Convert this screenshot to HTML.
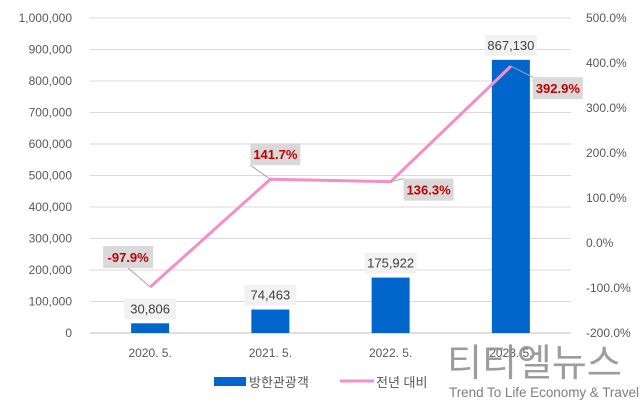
<!DOCTYPE html>
<html><head><meta charset="utf-8"><style>
body{margin:0;background:#fff;width:640px;height:401px;overflow:hidden}
svg text{font-family:"Liberation Sans","Noto Sans CJK KR",sans-serif}
</style></head><body>
<svg width="640" height="401" id="c"></svg>
<script>
const categories=["2020. 5.","2021. 5.","2022. 5.","2023. 5."];
const visitors=[30806,74463,175922,867130];
const growth=[-97.9,141.7,136.3,392.9];
const leftTicks=[0,100000,200000,300000,400000,500000,600000,700000,800000,900000,1000000];
const rightTicks=[-200,-100,0,100,200,300,400,500];
const pctOffsets=[[-22,-30],[5,-25],[38,8],[47,22]];
const svg=document.getElementById('c');const NS='http://www.w3.org/2000/svg';
function el(t,a,p){const e=document.createElementNS(NS,t);for(const k in a)e.setAttribute(k,a[k]);(p||svg).appendChild(e);return e;}
const x0=90,x1=571,yT=18,yB=333;
const xC=i=>x0+(x1-x0)/categories.length*(i+0.5);
const yL=v=>yB-(v/1000000)*(yB-yT);
const yR=v=>yB-((v+200)/700)*(yB-yT);
const fmt=n=>n.toLocaleString('en-US');
leftTicks.forEach(v=>{
 const g=el('line',{x1:x0,x2:x1,y1:yL(v),y2:yL(v),stroke:v===0?'#bfbfbf':'#d9d9d9','stroke-width':1});
 
 const t=el('text',{x:72,y:yL(v)+4,'text-anchor':'end','font-size':12,fill:'#595959'});t.textContent=fmt(v);
 
});
rightTicks.forEach(v=>{
 const t=el('text',{x:586,y:yR(v)+4,'font-size':12,fill:'#595959'});t.textContent=v.toFixed(1)+'%';
 
});
categories.forEach((c,i)=>{
 const t=el('text',{x:xC(i),y:357,'text-anchor':'middle','font-size':12,fill:'#595959'});t.textContent=c;
 
});
visitors.forEach((v,i)=>{
 const b=el('rect',{x:xC(i)-19,y:yL(v),width:38,height:yB-yL(v),fill:'#0066cc'});
 
 const cy=yL(v)-14;
 const r=el('rect',{x:xC(i)-26,y:cy-11,width:52,height:21,fill:'#f2f2f2'});
 
 const t=el('text',{x:xC(i),y:cy+4,'text-anchor':'middle','font-size':13,fill:'#404040'});t.textContent=fmt(v);
 
});
const pts=growth.map((g,i)=>[xC(i),yR(g)]);
const pl=el('polyline',{points:pts.map(p=>p.join(',')).join(' '),fill:'none',stroke:'#f28fc8','stroke-width':3});

growth.forEach((g,i)=>{
 const [px,py]=pts[i];const cx=px+pctOffsets[i][0],cy=py+pctOffsets[i][1];
 const ln=el('line',{x1:px,y1:py,x2:cx+(pctOffsets[i][0]>0?-25:0),y2:cy+(pctOffsets[i][1]<0?11:-11),stroke:'#a6a6a6','stroke-width':1});
 
 const r=el('rect',{x:cx-25,y:cy-11,width:50,height:22,fill:'#d9d9d9'});
 
 const t=el('text',{x:cx,y:cy+5,'text-anchor':'middle','font-size':13,'font-weight':'bold',fill:'#c00000'});t.textContent=g.toFixed(1)+'%';
 
});
const lb=el('rect',{x:214,y:377,width:32,height:9,fill:'#0066cc'});
const lt=el('text',{x:249,y:387,'font-size':13,fill:'#595959'});lt.textContent='방한관광객';
const ll=el('line',{x1:340,x2:374,y1:381,y2:381,stroke:'#f28fc8','stroke-width':3});
const lt2=el('text',{x:376,y:387,'font-size':13,fill:'#595959'});lt2.textContent='전년 대비';
const w=el('text',{x:447,y:376,'font-size':38,fill:'#8c8c8c','fill-opacity':0.85});w.textContent='티티엘뉴스';
const w2=el('text',{x:449,y:397,'font-size':13.5,fill:'#7f7f7f',textLength:190});w2.textContent='Trend To Life Economy & Travel';
</script>
</body></html>
